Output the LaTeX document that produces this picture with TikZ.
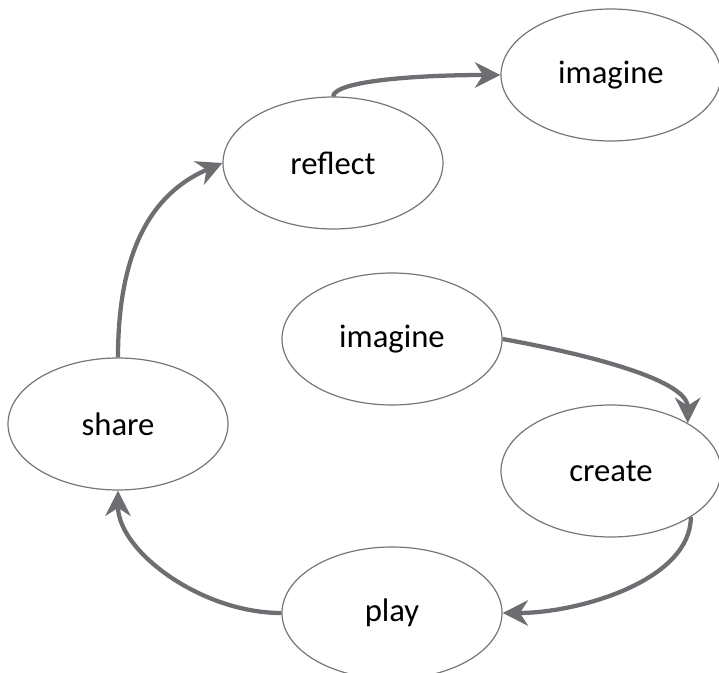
\documentclass[tikz,border=0pt]{standalone}
\usepackage{fontspec}
\setmainfont{Carlito}
\usetikzlibrary{shapes.geometric,arrows.meta}

\newcommand*\pxsize{0.75pt}
\definecolor{ringgray}{HTML}{767676}
\definecolor{flowgray}{HTML}{6D6E71}
\tikzset{stage/.style={
    draw=ringgray,
    line width=0.9pt,
    ellipse,
    fill=white,
    minimum width=220*\pxsize,
    minimum height=132*\pxsize,
    inner sep=0pt,
    font=\fontsize{24.5}{29}\selectfont,
    align=center
}}
\tikzset{flow/.style={
    draw=flowgray,
    line width=3.2pt,
    -{Stealth[length=19pt,width=19pt,inset=6pt]}
}}

\begin{document}
\begin{tikzpicture}[x=\pxsize,y=-\pxsize]

    % Fix the page to the size of the reference.
    \useasboundingbox (0,0) rectangle (719,673);

    % First place the stages. Coordinates are in pixels, counted from the
    % top left corner.
    \node[stage] (imagine1) at (611,75) {imagine};
    \node[stage] (reflect) at (333,163) {reflect};
    \node[stage] (imagine2) at (392,339) {imagine};
    \node[stage] (share) at (118,424) {share};
    \node[stage] (create) at (611,471) {create};
    \node[stage] (play) at (392,613) {play};

    % Now the arrows round the cycle.
    \draw[flow] (imagine2.east) .. controls +(72,13) and +(0,-45) .. (create.32);
    \draw[flow] (create.-30) .. controls +(0,63) and +(77,0) .. (play.east);
    \draw[flow] (play.west) .. controls +(-81,0) and +(0,60) .. (share.south);
    \draw[flow] (share.north) .. controls +(0,-118) and +(-63,27) .. (reflect.west);
    \draw[flow] (reflect.north) .. controls +(2,-16) and +(-80,0) .. (imagine1.west);

\end{tikzpicture}
\end{document}
